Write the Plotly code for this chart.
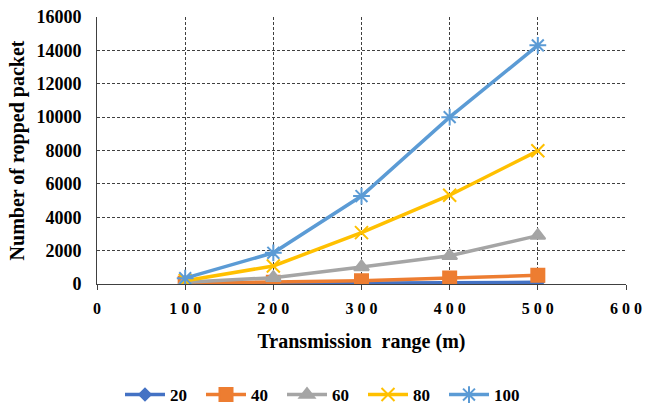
import plotly.graph_objects as go

x_vals = [100, 200, 300, 400, 500]
s20 = [10, 20, 40, 80, 100]
s40 = [50, 100, 190, 360, 520]
s60 = [100, 380, 1020, 1690, 2900]
s80 = [200, 1080, 3080, 5320, 7980]
s100 = [350, 1870, 5270, 10000, 14300]

series_names = ["20", "40", "60", "80", "100"]
series_vals = [s20, s40, s60, s80, s100]
colors = ["#4472C4", "#ED7D31", "#A5A5A5", "#FFC000", "#5B9BD5"]
symbols = ["diamond", "square", "triangle-up", "x-thin-open", "asterisk-open"]
sizes = [9, 13, 13, 13, 14]

x_ticks = [0, 100, 200, 300, 400, 500, 600]
x_ticktext = ["0", "1 0 0", "2 0 0", "3 0 0", "4 0 0", "5 0 0", "6 0 0"]
y_ticks = [0, 2000, 4000, 6000, 8000, 10000, 12000, 14000, 16000]
y_ticktext = ["0", "2000", "4000", "6000", "8000", "10000", "12000", "14000", "16000"]

FONT = "Liberation Serif"

fig = go.Figure()
for name, vals, c, sym, sz in zip(series_names, series_vals, colors, symbols, sizes):
    fig.add_trace(go.Scatter(
        x=x_vals, y=vals, name="<b>" + name + "</b>", mode="lines+markers",
        line=dict(color=c, width=3.5),
        marker=dict(symbol=sym, size=sz, color=c, line=dict(color=c, width=2)),
    ))

grid = dict(showgrid=True, gridcolor="#404040", gridwidth=1, griddash="3px,2px")

fig.update_layout(
    width=645, height=408,
    margin=dict(l=97, r=19, t=17, b=124, autoexpand=False),
    paper_bgcolor="white", plot_bgcolor="white",
    font=dict(family=FONT, size=16, color="black"),
    showlegend=True,
    legend=dict(orientation="h", x=0.5, xanchor="center", xref="container",
                y=(408 - 395) / 408, yanchor="middle", yref="container",
                font=dict(family=FONT, size=17, color="black"),
                itemwidth=40, tracegroupgap=0, entrywidth=26, entrywidthmode="pixels"),
    xaxis=dict(range=[0, 600], tickvals=x_ticks,
               ticktext=["<b>" + t + "</b>" for t in x_ticktext],
               tickfont=dict(family=FONT, size=16, color="black"),
               showline=True, linecolor="#404040", linewidth=1, mirror=False,
               ticks="outside", ticklen=5, tickcolor="#404040",
               ticklabelstandoff=5,
               zeroline=False,
               title=dict(text="<b>Transmission  range (m)</b>", standoff=17,
                          font=dict(family=FONT, size=20, color="black")),
               **grid),
    yaxis=dict(range=[0, 16000], tickvals=y_ticks,
               ticktext=["<b>" + t + "</b>" for t in y_ticktext],
               tickfont=dict(family=FONT, size=18, color="black"),
               showline=True, linecolor="#404040", linewidth=1,
               ticks="", zeroline=False, ticklabelstandoff=11,
               title=dict(text="<b>Number of ropped packet</b>", standoff=6,
                          font=dict(family=FONT, size=20, color="black")),
               **grid),
)

fig.write_html("out.html")
